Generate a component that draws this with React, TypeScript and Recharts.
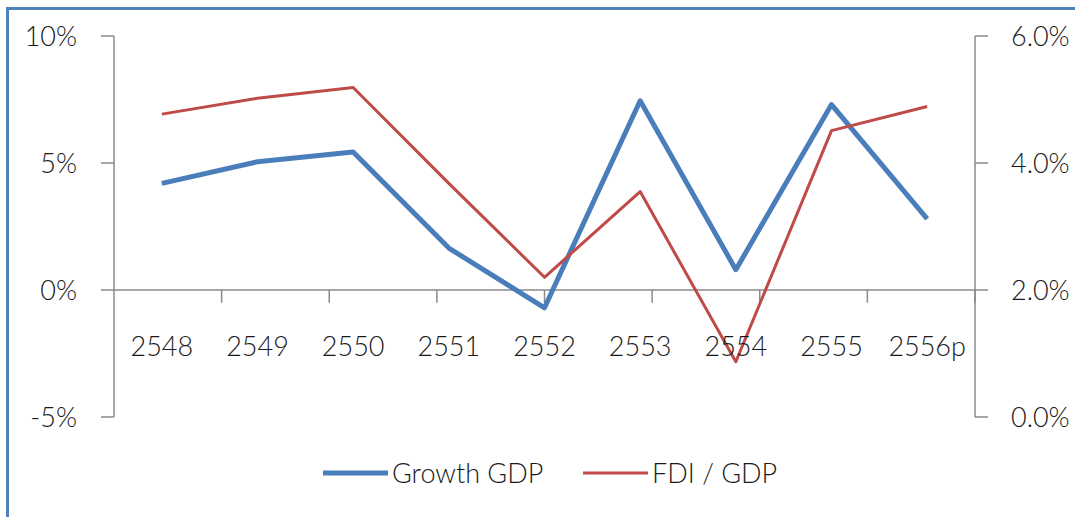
import React from 'react';
import {
  ComposedChart,
  Line,
  XAxis,
  YAxis,
  ReferenceLine,
  Legend,
} from 'recharts';

const categories = ['2548', '2549', '2550', '2551', '2552', '2553', '2554', '2555', '2556p'];
const growthGdp = [4.2, 5.05, 5.43, 1.65, -0.7, 7.45, 0.8, 7.3, 2.8];
const fdiGdp = [4.77, 5.02, 5.19, 3.68, 2.2, 3.55, 0.87, 4.51, 4.89];
const leftTicks = [-5, 0, 5, 10];
const rightTicks = [0, 2, 4, 6];
const seriesNames = ['Growth GDP', 'FDI / GDP'];

const data = categories.map((c, i) => ({
  year: c,
  growth: growthGdp[i],
  fdi: fdiGdp[i],
}));

const boundaries = categories.slice(1).map((_, i) => i + 1);

const FONT = 'Lato, "Liberation Sans", sans-serif';
const TEXT = '#1a1a1a';
const AXIS = '#8a8a8a';
const BLUE = '#4A7EBB';
const RED = '#BE4B48';
const FS = 27;
const FW = 300;

const widthByKey: Record<string, number> = { growth: 5, fdi: 3 };

const renderLegend = (props: any) => {
  const payload = [...(props.payload || [])].sort(
    (a: any, b: any) => seriesNames.indexOf(a.value) - seriesNames.indexOf(b.value)
  );
  return (
    <div
      style={{
        display: 'flex',
        alignItems: 'center',
        fontFamily: FONT,
        fontSize: FS,
        fontWeight: FW,
        color: TEXT,
        lineHeight: '32px',
        height: 32,
      }}
    >
      {payload.map((p: any, i: number) => (
        <div
          key={i}
          style={{ display: 'flex', alignItems: 'center', width: i === 0 ? 260 : 'auto' }}
        >
          <svg width={65} height={10} style={{ display: 'block' }}>
            <line
              x1={0}
              y1={5}
              x2={65}
              y2={5}
              stroke={p.color}
              strokeWidth={widthByKey[p.dataKey] || 3}
            />
          </svg>
          <span style={{ marginLeft: 4 }}>{p.value}</span>
        </div>
      ))}
    </div>
  );
};

const tickStyle = { fontFamily: FONT, fontSize: FS, fontWeight: FW, fill: TEXT };

export default function App() {
  return (
    <div style={{ position: 'absolute', left: 0, top: 0, width: 1075, height: 517, overflow: 'hidden', background: '#fff' }}>
      <div
        style={{
          position: 'absolute',
          left: 6,
          top: 7,
          width: 1200,
          height: 700,
          borderLeft: '3px solid #4F81BD',
          borderTop: '3px solid #4F81BD',
        }}
      />
      <div style={{ position: 'absolute', left: 0, top: 0 }}>
        <ComposedChart
          width={1075}
          height={517}
          data={data}
          margin={{ top: 36, right: 0, bottom: 0, left: 0 }}
          style={{ fontFamily: FONT }}
        >
          <XAxis
            dataKey="year"
            scale="band"
            height={100}
            interval={0}
            axisLine={false}
            tickLine={false}
            tickSize={0}
            tickMargin={0}
            tick={{ ...tickStyle, dy: -80 }}
          />
          <XAxis xAxisId="edges" type="number" domain={[0, categories.length]} hide />
          <YAxis
            yAxisId="left"
            orientation="left"
            width={114}
            domain={[-5, 10]}
            ticks={leftTicks}
            interval={0}
            tickFormatter={(v: number) => `${v}%`}
            stroke={AXIS}
            axisLine={{ stroke: AXIS, strokeWidth: 1.5 }}
            tickLine={{ stroke: AXIS, strokeWidth: 1.5 }}
            tickSize={13}
            tickMargin={24}
            tick={tickStyle}
          />
          <YAxis
            yAxisId="right"
            orientation="right"
            width={100}
            domain={[0, 6]}
            ticks={rightTicks}
            interval={0}
            tickFormatter={(v: number) => `${v.toFixed(1)}%`}
            stroke={AXIS}
            axisLine={{ stroke: AXIS, strokeWidth: 1.5 }}
            tickLine={{ stroke: AXIS, strokeWidth: 1.5 }}
            tickSize={13}
            tickMargin={23}
            tick={tickStyle}
          />
          <ReferenceLine yAxisId="left" y={0} stroke={AXIS} strokeWidth={1.5} />
          {boundaries.map((b) => (
            <ReferenceLine
              key={b}
              xAxisId="edges"
              yAxisId="left"
              segment={[
                { x: b, y: 0 },
                { x: b, y: -0.5 },
              ]}
              stroke={AXIS}
              strokeWidth={1.5}
            />
          ))}
          <Line
            yAxisId="left"
            dataKey="growth"
            name={seriesNames[0]}
            stroke={BLUE}
            strokeWidth={5}
            strokeLinejoin="round"
            dot={false}
            activeDot={false}
            isAnimationActive={false}
          />
          <Line
            yAxisId="right"
            dataKey="fdi"
            name={seriesNames[1]}
            stroke={RED}
            strokeWidth={3}
            strokeLinejoin="round"
            dot={false}
            activeDot={false}
            isAnimationActive={false}
          />
          <Legend
            layout="horizontal"
            verticalAlign="middle"
            align="center"
            content={renderLegend}
            wrapperStyle={{ left: 323, top: 457, width: 700, height: 32 }}
          />
        </ComposedChart>
      </div>
    </div>
  );
}
